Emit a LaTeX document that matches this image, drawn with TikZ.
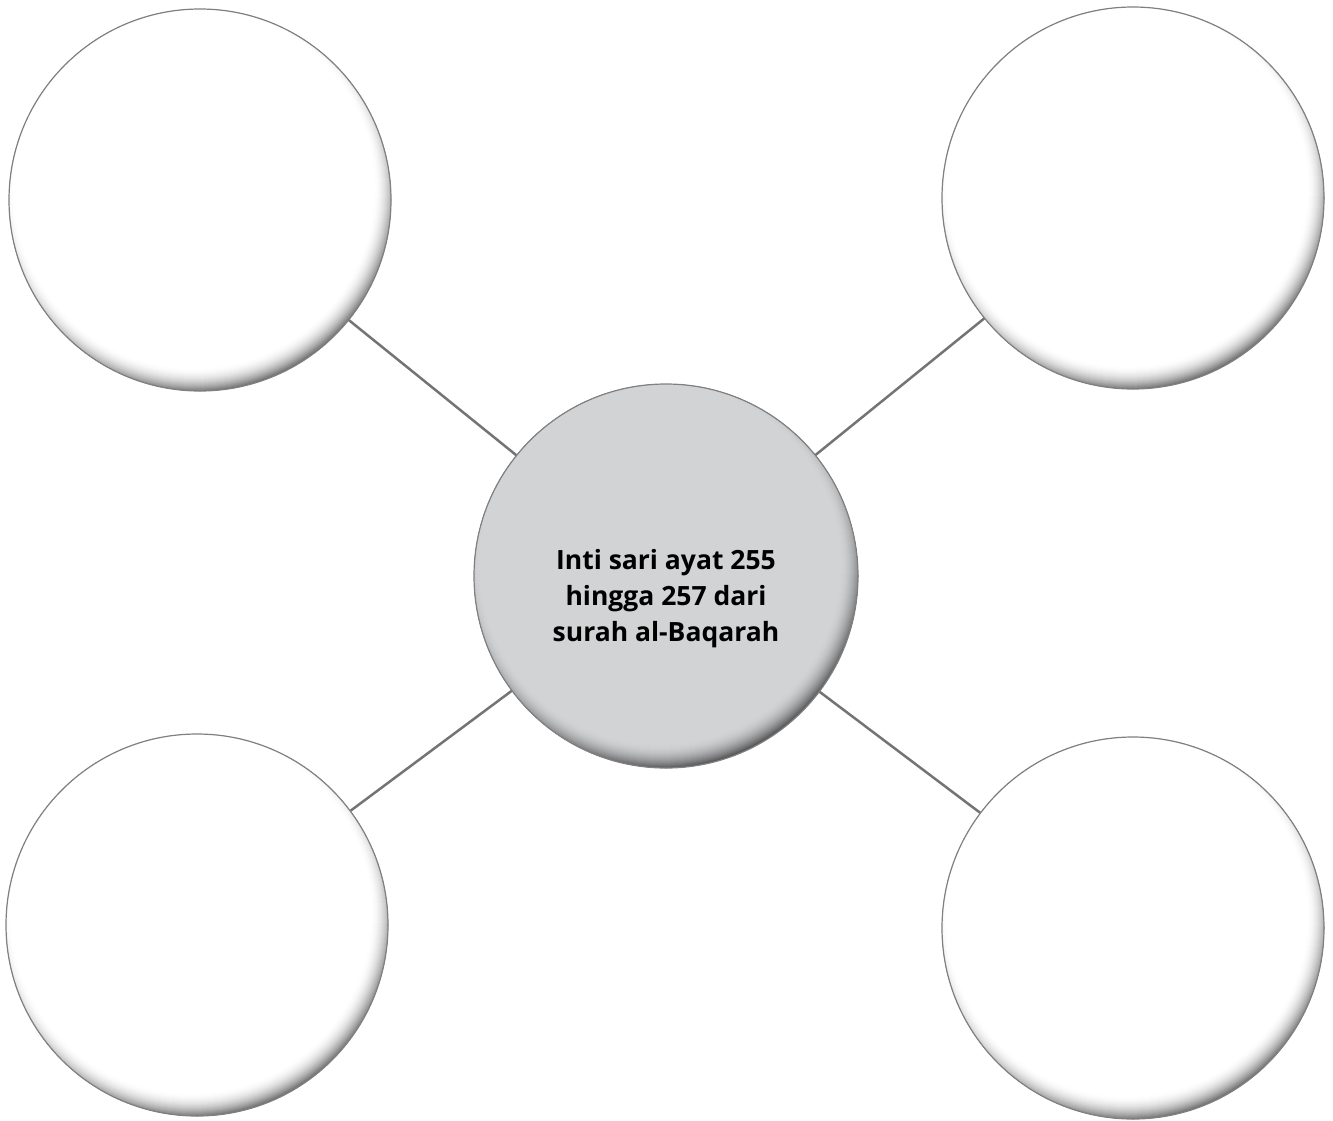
\documentclass[tikz,border=0pt]{standalone}
\usepackage{fontspec}
\setmainfont{Open Sans}
\definecolor{hub}{HTML}{D2D3D5}
\definecolor{link}{HTML}{747474}
\tikzset{
  rimfill/.style={path picture={
    \foreach \i in {0,...,26}{
      \pgfmathsetmacro\rr{206-\i}
      \pgfmathsetmacro\pp{100-64*(1-\i/26)^2}
      \fill[#1!\pp!black] ([shift={(-6,-12)}]path picture bounding box.center) circle (\rr);
    }}},
  leaf/.style={circle, minimum size=382pt, inner sep=0pt, draw=black!50, line width=1.2pt, rimfill=white},
  hubnode/.style={circle, minimum size=384pt, inner sep=0pt, draw=black!50, line width=1.2pt, rimfill=hub},
  hubtext/.style={font=\fontsize{26.5}{36}\selectfont\bfseries, align=center, inner sep=0pt},
  conn/.style={draw=link, line width=2.5pt}
}
\begin{document}
\begin{tikzpicture}[x=1pt,y=-1pt]
\useasboundingbox (0,0) rectangle (1333,1120);
\coordinate (cc) at (666,576);
\draw[conn] (200,200) -- (cc);
\draw[conn] (1133,198) -- (cc);
\draw[conn] (197,925) -- (cc);
\draw[conn] (1133,928) -- (cc);
\node[leaf] (tl) at (200,200) {};
\node[leaf] (tr) at (1133,198) {};
\node[leaf] (bl) at (197,925) {};
\node[leaf] (br) at (1133,928) {};
\node[hubnode] (c) at (cc) {};
\node[hubtext] (lbl) at (666,599) {Inti sari ayat 255\\hingga 257 dari\\surah al-Baqarah};
\end{tikzpicture}
\end{document}
